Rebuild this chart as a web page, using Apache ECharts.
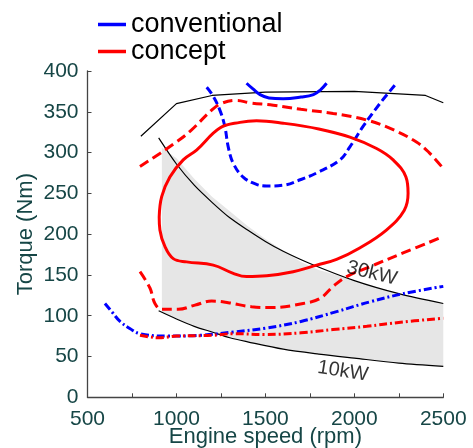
<!DOCTYPE html>
<html>
<head>
<meta charset="utf-8">
<script src="https://cdn.jsdelivr.net/npm/echarts@6/dist/echarts.min.js"></script>
<style>
  html, body { margin: 0; padding: 0; background: #fff; }
  #main { width: 473px; height: 448px; }
</style>
</head>
<body>
<div id="main"></div>
<script>
// engine speed (rpm), torque (Nm) pairs
var fullLoad = [[800, 320], [1000, 360], [1200, 370], [1500, 374], [2000, 375], [2400, 370], [2500, 361]];
var power30kW = [[900, 318], [1000, 286], [1100, 260], [1200, 239], [1300, 220], [1400, 205], [1500, 191], [1600, 179], [1750, 164], [2000, 143], [2250, 127], [2500, 115]];
var power10kW = [[900, 106], [1000, 96], [1100, 87], [1200, 80], [1300, 73], [1400, 68], [1600, 59], [1800, 53], [2000, 48], [2250, 42], [2500, 38]];
var grayTop = [[918, 306], [1000, 293], [1100, 268], [1200, 246], [1300, 228], [1400, 210], [1500, 194], [1600, 180], [1700, 166], [1800, 156], [1900, 150], [2000, 143], [2250, 127], [2500, 115]];
var grayBottom = [[2500, 38], [2250, 42], [2000, 48], [1800, 53], [1600, 59], [1400, 68], [1200, 80], [1000, 96], [918, 104]];

var convSolid = [[1394, 385], [1430, 378], [1470, 371], [1520, 367], [1600, 366], [1700, 368], [1770, 371], [1810, 377], [1844, 385]];
var convDashed = [[1170, 380], [1207, 369], [1244, 352], [1272, 332], [1291, 307], [1319, 287], [1375, 270], [1450, 261], [1507, 259], [1600, 260], [1700, 267], [1788, 275], [1919, 291], [1975, 307], [2049, 332], [2143, 360], [2237, 385]];
var convDashDot = [[598, 115], [640, 104], [683, 93], [740, 84], [795, 78], [945, 75], [1132, 76], [1320, 80], [1507, 85], [1700, 93], [1900, 105], [2087, 117], [2274, 127], [2500, 136]];

var conceptSolid = [[903, 221], [917, 246], [963, 270], [1038, 291], [1113, 303], [1244, 330], [1357, 337], [1450, 339], [1600, 336], [1800, 329], [1975, 319], [2125, 305], [2218, 291], [2290, 270], [2302, 250], [2280, 229], [2180, 205], [2030, 183], [1900, 169], [1788, 162], [1656, 154], [1507, 149], [1394, 148], [1319, 152], [1207, 162], [1057, 166], [982, 170], [935, 185], [907, 205], [903, 221]];
var conceptDashedHigh = [[795, 283], [907, 299], [1000, 313], [1076, 326], [1198, 352], [1250, 360], [1338, 364], [1413, 361], [1544, 358], [1700, 353], [1881, 348], [2068, 340], [2218, 328], [2349, 313], [2420, 300], [2490, 283]];
var conceptDashedLow = [[795, 154], [851, 134], [879, 115], [917, 108], [1010, 108], [1104, 113], [1198, 118], [1291, 116], [1422, 111], [1535, 110], [1712, 115], [1806, 121], [1881, 136], [1957, 148], [2087, 160], [2274, 177], [2500, 197]];
var conceptDashDot = [[795, 76], [850, 74], [900, 73], [1000, 75], [1200, 76], [1320, 78], [1500, 77], [1700, 79], [1880, 83], [2070, 87], [2260, 92], [2500, 97]];

var powerLabels = ['30kW', '10kW'];
var powerLabelPos = [[2098, 152], [1935, 32]];
var powerLabelRot = [-14, -9];

var xTicks = [500, 1000, 1500, 2000, 2500];

var chart = echarts.init(document.getElementById('main'));
var font = 'Liberation Sans, Arial, sans-serif';
var tickColor = '#164646';

function line(name, data, color, width, dash, smooth) {
  return {
    name: name, type: 'line', data: data, symbol: 'none', smooth: smooth,
    silent: true, z: 3, color: color,
    lineStyle: { color: color, width: width, type: dash }
  };
}

var grayPoly = grayTop.concat(grayBottom);

chart.setOption({
  animation: false,
  legend: {
    data: ['conventional', 'concept'],
    orient: 'vertical',
    left: 98, top: 11, padding: 0,
    itemWidth: 28, itemHeight: 3.5, itemGap: 0,
    icon: 'rect',
    textStyle: { fontSize: 27, fontFamily: font, color: '#000' }
  },
  grid: { left: 87.5, right: 29.7, top: 71, bottom: 50.7, containLabel: false, outerBoundsMode: 'none' },
  xAxis: {
    type: 'value', min: 500, max: 2500, interval: 250,
    name: 'Engine speed (rpm)', nameLocation: 'middle', nameGap: 29, nameMoveOverlap: false,
    nameTextStyle: { fontSize: 22, fontFamily: font, color: tickColor },
    axisLine: { lineStyle: { color: '#444', width: 1.3 } },
    axisTick: { inside: true, length: 4, lineStyle: { color: '#444' } },
    axisLabel: {
      fontSize: 21, fontFamily: font, color: tickColor, margin: 11,
      formatter: function (v) { return xTicks.indexOf(v) >= 0 ? String(v) : ''; }
    },
    splitLine: { show: false }
  },
  yAxis: {
    type: 'value', min: 0, max: 400, interval: 50,
    name: 'Torque (Nm)', nameLocation: 'middle', nameGap: 51, nameMoveOverlap: false,
    nameTextStyle: { fontSize: 22, fontFamily: font, color: tickColor },
    axisLine: { show: true, lineStyle: { color: '#444', width: 1.3 } },
    axisTick: { show: true, inside: true, length: 4, lineStyle: { color: '#444' } },
    axisLabel: { fontSize: 21, fontFamily: font, color: tickColor, margin: 9 },
    splitLine: { show: false }
  },
  series: [
    {
      name: 'region', type: 'custom', silent: true, z: 1,
      data: [0],
      renderItem: function (params, api) {
        var pts = grayPoly.map(function (p) { return api.coord(p); });
        return { type: 'polygon', shape: { points: pts }, style: { fill: '#e6e6e6' } };
      }
    },
    line('full load', fullLoad, '#000', 1.2, 'solid', false),
    line('30kW line', power30kW, '#000', 1.2, 'solid', 0.3),
    line('10kW line', power10kW, '#000', 1.2, 'solid', 0.3),
    line('conventional', convSolid, '#0000ff', 3, 'solid', 0.4),
    line('conv dashed', convDashed, '#0000ff', 3, [8, 4], 0.4),
    line('conv dashdot', convDashDot, '#0000ff', 3, [8, 3, 2, 3], 0.4),
    line('concept', conceptSolid, '#ff0000', 3, 'solid', 0.4),
    line('concept dashed hi', conceptDashedHigh, '#ff0000', 3, [10, 5], 0.4),
    line('concept dashed lo', conceptDashedLow, '#ff0000', 3, [10, 5], 0.4),
    line('concept dashdot', conceptDashDot, '#ff0000', 3, [8, 3, 2, 3], 0.4),
    {
      name: 'power labels', type: 'scatter', silent: true, z: 4,
      symbolSize: 1, itemStyle: { color: 'rgba(0,0,0,0)' },
      data: powerLabels.map(function (t, i) {
        return {
          name: t, value: powerLabelPos[i],
          label: { rotate: powerLabelRot[i] }
        };
      }),
      label: {
        show: true, position: 'inside', formatter: '{b}',
        fontSize: 20, fontFamily: font, color: '#000', textBorderWidth: 0
      }
    }
  ]
});
</script>
</body>
</html>
